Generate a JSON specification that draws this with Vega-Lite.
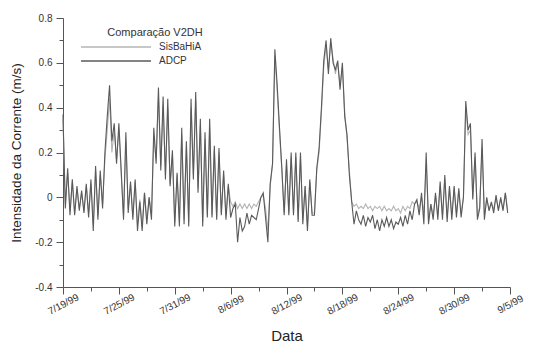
{
"$schema": "https://vega.github.io/schema/vega-lite/v6.json",
"width": 447, "height": 269,
"autosize": {"type": "none"},
"padding": {"left": 63, "top": 18, "right": 31, "bottom": 57},
"background": "white",
"config": {"view": {"stroke": null}, "font": "Liberation Sans"},
"data": {"values": [
{"t":"1999-07-19T00:00","SisBaHiA":0.35,"ADCP":0.37},{"t":"1999-07-19T06:00","SisBaHiA":-0.03,"ADCP":-0.05},{"t":"1999-07-19T12:00","SisBaHiA":0.11,"ADCP":0.13},{"t":"1999-07-19T18:00","SisBaHiA":-0.06,"ADCP":-0.08},
{"t":"1999-07-20T00:00","SisBaHiA":0.07,"ADCP":0.08},{"t":"1999-07-20T06:00","SisBaHiA":-0.07,"ADCP":-0.08},{"t":"1999-07-20T12:00","SisBaHiA":0.04,"ADCP":0.05},{"t":"1999-07-20T18:00","SisBaHiA":-0.05,"ADCP":-0.06},
{"t":"1999-07-21T00:00","SisBaHiA":0.02,"ADCP":0.03},{"t":"1999-07-21T06:00","SisBaHiA":-0.06,"ADCP":-0.07},{"t":"1999-07-21T12:00","SisBaHiA":0.05,"ADCP":0.06},{"t":"1999-07-21T18:00","SisBaHiA":-0.07,"ADCP":-0.09},
{"t":"1999-07-22T00:00","SisBaHiA":0.06,"ADCP":0.08},{"t":"1999-07-22T06:00","SisBaHiA":-0.12,"ADCP":-0.15},{"t":"1999-07-22T12:00","SisBaHiA":0.12,"ADCP":0.14},{"t":"1999-07-22T18:00","SisBaHiA":-0.08,"ADCP":-0.1},
{"t":"1999-07-23T00:00","SisBaHiA":0.1,"ADCP":0.12},{"t":"1999-07-23T06:00","SisBaHiA":-0.03,"ADCP":-0.05},{"t":"1999-07-23T12:00","SisBaHiA":0.17,"ADCP":0.2},{"t":"1999-07-23T18:00","SisBaHiA":0.3,"ADCP":0.36},
{"t":"1999-07-24T00:00","SisBaHiA":0.44,"ADCP":0.5},{"t":"1999-07-24T06:00","SisBaHiA":0.2,"ADCP":0.25},{"t":"1999-07-24T12:00","SisBaHiA":0.3,"ADCP":0.33},{"t":"1999-07-24T18:00","SisBaHiA":0.17,"ADCP":0.15},
{"t":"1999-07-25T00:00","SisBaHiA":0.3,"ADCP":0.33},{"t":"1999-07-25T06:00","SisBaHiA":0.1,"ADCP":0.12},{"t":"1999-07-25T12:00","SisBaHiA":-0.08,"ADCP":-0.1},{"t":"1999-07-25T18:00","SisBaHiA":0.25,"ADCP":0.29},
{"t":"1999-07-26T00:00","SisBaHiA":-0.05,"ADCP":-0.07},{"t":"1999-07-26T06:00","SisBaHiA":0.06,"ADCP":0.07},{"t":"1999-07-26T12:00","SisBaHiA":-0.08,"ADCP":-0.1},{"t":"1999-07-26T18:00","SisBaHiA":0.07,"ADCP":0.08},
{"t":"1999-07-27T00:00","SisBaHiA":-0.12,"ADCP":-0.15},{"t":"1999-07-27T06:00","SisBaHiA":-0.01,"ADCP":-0.02},{"t":"1999-07-27T12:00","SisBaHiA":-0.12,"ADCP":-0.15},{"t":"1999-07-27T18:00","SisBaHiA":0.02,"ADCP":0.02},
{"t":"1999-07-28T00:00","SisBaHiA":-0.1,"ADCP":-0.12},{"t":"1999-07-28T06:00","SisBaHiA":0.0,"ADCP":0.0},{"t":"1999-07-28T12:00","SisBaHiA":-0.08,"ADCP":-0.1},{"t":"1999-07-28T18:00","SisBaHiA":0.27,"ADCP":0.31},
{"t":"1999-07-29T00:00","SisBaHiA":0.17,"ADCP":0.15},{"t":"1999-07-29T06:00","SisBaHiA":0.45,"ADCP":0.49},{"t":"1999-07-29T12:00","SisBaHiA":0.14,"ADCP":0.12},{"t":"1999-07-29T18:00","SisBaHiA":0.41,"ADCP":0.45},
{"t":"1999-07-30T00:00","SisBaHiA":0.1,"ADCP":0.08},{"t":"1999-07-30T06:00","SisBaHiA":0.4,"ADCP":0.44},{"t":"1999-07-30T12:00","SisBaHiA":0.06,"ADCP":0.05},{"t":"1999-07-30T18:00","SisBaHiA":0.19,"ADCP":0.21},
{"t":"1999-07-31T00:00","SisBaHiA":-0.11,"ADCP":-0.13},{"t":"1999-07-31T06:00","SisBaHiA":0.1,"ADCP":0.11},{"t":"1999-07-31T12:00","SisBaHiA":-0.11,"ADCP":-0.13},{"t":"1999-07-31T18:00","SisBaHiA":0.28,"ADCP":0.31},
{"t":"1999-08-01T00:00","SisBaHiA":-0.1,"ADCP":-0.12},{"t":"1999-08-01T06:00","SisBaHiA":0.23,"ADCP":0.25},{"t":"1999-08-01T12:00","SisBaHiA":-0.11,"ADCP":-0.13},{"t":"1999-08-01T18:00","SisBaHiA":0.4,"ADCP":0.44},
{"t":"1999-08-02T00:00","SisBaHiA":0.1,"ADCP":0.08},{"t":"1999-08-02T06:00","SisBaHiA":0.43,"ADCP":0.47},{"t":"1999-08-02T12:00","SisBaHiA":0.04,"ADCP":0.02},{"t":"1999-08-02T18:00","SisBaHiA":0.32,"ADCP":0.35},
{"t":"1999-08-03T00:00","SisBaHiA":-0.11,"ADCP":-0.13},{"t":"1999-08-03T06:00","SisBaHiA":0.26,"ADCP":0.29},{"t":"1999-08-03T12:00","SisBaHiA":-0.08,"ADCP":-0.09},{"t":"1999-08-03T18:00","SisBaHiA":0.31,"ADCP":0.35},
{"t":"1999-08-04T00:00","SisBaHiA":-0.08,"ADCP":-0.09},{"t":"1999-08-04T06:00","SisBaHiA":0.21,"ADCP":0.23},{"t":"1999-08-04T12:00","SisBaHiA":-0.09,"ADCP":-0.1},{"t":"1999-08-04T18:00","SisBaHiA":0.2,"ADCP":0.22},
{"t":"1999-08-05T00:00","SisBaHiA":-0.07,"ADCP":-0.08},{"t":"1999-08-05T06:00","SisBaHiA":0.1,"ADCP":0.12},{"t":"1999-08-05T12:00","SisBaHiA":-0.08,"ADCP":-0.1},{"t":"1999-08-05T18:00","SisBaHiA":0.05,"ADCP":0.06},
{"t":"1999-08-06T00:00","SisBaHiA":-0.02,"ADCP":-0.09},{"t":"1999-08-06T06:00","SisBaHiA":-0.04,"ADCP":-0.05},{"t":"1999-08-06T12:00","SisBaHiA":-0.02,"ADCP":-0.03},{"t":"1999-08-06T18:00","SisBaHiA":-0.05,"ADCP":-0.2},
{"t":"1999-08-07T00:00","SisBaHiA":-0.03,"ADCP":-0.09},{"t":"1999-08-07T06:00","SisBaHiA":-0.05,"ADCP":-0.15},{"t":"1999-08-07T12:00","SisBaHiA":-0.03,"ADCP":-0.13},{"t":"1999-08-07T18:00","SisBaHiA":-0.05,"ADCP":-0.07},
{"t":"1999-08-08T00:00","SisBaHiA":-0.03,"ADCP":-0.12},{"t":"1999-08-08T06:00","SisBaHiA":-0.05,"ADCP":-0.08},{"t":"1999-08-08T12:00","SisBaHiA":-0.03,"ADCP":-0.09},{"t":"1999-08-08T18:00","SisBaHiA":-0.04,"ADCP":-0.1},
{"t":"1999-08-09T00:00","SisBaHiA":-0.02,"ADCP":-0.05},{"t":"1999-08-09T06:00","SisBaHiA":0.0,"ADCP":0.0},{"t":"1999-08-09T12:00","SisBaHiA":0.01,"ADCP":0.02},{"t":"1999-08-09T18:00","SisBaHiA":-0.05,"ADCP":-0.09},
{"t":"1999-08-10T00:00","SisBaHiA":-0.15,"ADCP":-0.2},{"t":"1999-08-10T06:00","SisBaHiA":0.05,"ADCP":0.06},{"t":"1999-08-10T12:00","SisBaHiA":0.15,"ADCP":0.15},{"t":"1999-08-10T18:00","SisBaHiA":0.63,"ADCP":0.66},
{"t":"1999-08-11T00:00","SisBaHiA":0.47,"ADCP":0.5},{"t":"1999-08-11T06:00","SisBaHiA":0.29,"ADCP":0.31},{"t":"1999-08-11T12:00","SisBaHiA":0.12,"ADCP":0.13},{"t":"1999-08-11T18:00","SisBaHiA":-0.07,"ADCP":-0.08},
{"t":"1999-08-12T00:00","SisBaHiA":0.15,"ADCP":0.17},{"t":"1999-08-12T06:00","SisBaHiA":-0.07,"ADCP":-0.08},{"t":"1999-08-12T12:00","SisBaHiA":0.18,"ADCP":0.2},{"t":"1999-08-12T18:00","SisBaHiA":-0.07,"ADCP":-0.08},
{"t":"1999-08-13T00:00","SisBaHiA":0.18,"ADCP":0.2},{"t":"1999-08-13T06:00","SisBaHiA":-0.1,"ADCP":-0.11},{"t":"1999-08-13T12:00","SisBaHiA":0.18,"ADCP":0.2},{"t":"1999-08-13T18:00","SisBaHiA":-0.1,"ADCP":-0.12},
{"t":"1999-08-14T00:00","SisBaHiA":0.05,"ADCP":0.05},{"t":"1999-08-14T06:00","SisBaHiA":-0.13,"ADCP":-0.15},{"t":"1999-08-14T12:00","SisBaHiA":0.07,"ADCP":0.08},{"t":"1999-08-14T18:00","SisBaHiA":-0.07,"ADCP":-0.08},
{"t":"1999-08-15T00:00","SisBaHiA":-0.07,"ADCP":-0.08},{"t":"1999-08-15T06:00","SisBaHiA":0.12,"ADCP":0.13},{"t":"1999-08-15T12:00","SisBaHiA":0.2,"ADCP":0.22},{"t":"1999-08-15T18:00","SisBaHiA":0.38,"ADCP":0.4},
{"t":"1999-08-16T00:00","SisBaHiA":0.58,"ADCP":0.61},{"t":"1999-08-16T06:00","SisBaHiA":0.68,"ADCP":0.7},{"t":"1999-08-16T12:00","SisBaHiA":0.57,"ADCP":0.55},{"t":"1999-08-16T18:00","SisBaHiA":0.69,"ADCP":0.71},
{"t":"1999-08-17T00:00","SisBaHiA":0.62,"ADCP":0.6},{"t":"1999-08-17T06:00","SisBaHiA":0.55,"ADCP":0.57},{"t":"1999-08-17T12:00","SisBaHiA":0.6,"ADCP":0.61},{"t":"1999-08-17T18:00","SisBaHiA":0.5,"ADCP":0.48},
{"t":"1999-08-18T00:00","SisBaHiA":0.58,"ADCP":0.6},{"t":"1999-08-18T06:00","SisBaHiA":0.38,"ADCP":0.36},{"t":"1999-08-18T12:00","SisBaHiA":0.26,"ADCP":0.28},{"t":"1999-08-18T18:00","SisBaHiA":0.12,"ADCP":0.1},
{"t":"1999-08-19T00:00","SisBaHiA":-0.02,"ADCP":-0.02},{"t":"1999-08-19T06:00","SisBaHiA":-0.04,"ADCP":-0.12},{"t":"1999-08-19T12:00","SisBaHiA":-0.03,"ADCP":-0.06},{"t":"1999-08-19T18:00","SisBaHiA":-0.05,"ADCP":-0.1},
{"t":"1999-08-20T00:00","SisBaHiA":-0.04,"ADCP":-0.12},{"t":"1999-08-20T06:00","SisBaHiA":-0.05,"ADCP":-0.08},{"t":"1999-08-20T12:00","SisBaHiA":-0.03,"ADCP":-0.13},{"t":"1999-08-20T18:00","SisBaHiA":-0.05,"ADCP":-0.09},
{"t":"1999-08-21T00:00","SisBaHiA":-0.04,"ADCP":-0.11},{"t":"1999-08-21T06:00","SisBaHiA":-0.06,"ADCP":-0.08},{"t":"1999-08-21T12:00","SisBaHiA":-0.04,"ADCP":-0.14},{"t":"1999-08-21T18:00","SisBaHiA":-0.05,"ADCP":-0.1},
{"t":"1999-08-22T00:00","SisBaHiA":-0.04,"ADCP":-0.15},{"t":"1999-08-22T06:00","SisBaHiA":-0.06,"ADCP":-0.1},{"t":"1999-08-22T12:00","SisBaHiA":-0.04,"ADCP":-0.13},{"t":"1999-08-22T18:00","SisBaHiA":-0.06,"ADCP":-0.09},
{"t":"1999-08-23T00:00","SisBaHiA":-0.05,"ADCP":-0.13},{"t":"1999-08-23T06:00","SisBaHiA":-0.06,"ADCP":-0.1},{"t":"1999-08-23T12:00","SisBaHiA":-0.04,"ADCP":-0.14},{"t":"1999-08-23T18:00","SisBaHiA":-0.06,"ADCP":-0.11},
{"t":"1999-08-24T00:00","SisBaHiA":-0.05,"ADCP":-0.12},{"t":"1999-08-24T06:00","SisBaHiA":-0.07,"ADCP":-0.09},{"t":"1999-08-24T12:00","SisBaHiA":-0.04,"ADCP":-0.13},{"t":"1999-08-24T18:00","SisBaHiA":-0.06,"ADCP":-0.08},
{"t":"1999-08-25T00:00","SisBaHiA":-0.04,"ADCP":-0.12},{"t":"1999-08-25T06:00","SisBaHiA":-0.05,"ADCP":-0.06},{"t":"1999-08-25T12:00","SisBaHiA":-0.02,"ADCP":-0.1},{"t":"1999-08-25T18:00","SisBaHiA":-0.03,"ADCP":-0.03},
{"t":"1999-08-26T00:00","SisBaHiA":-0.02,"ADCP":-0.01},{"t":"1999-08-26T06:00","SisBaHiA":-0.05,"ADCP":-0.08},{"t":"1999-08-26T12:00","SisBaHiA":0.0,"ADCP":0.02},{"t":"1999-08-26T18:00","SisBaHiA":-0.07,"ADCP":-0.12},
{"t":"1999-08-27T00:00","SisBaHiA":0.15,"ADCP":0.2},{"t":"1999-08-27T06:00","SisBaHiA":-0.1,"ADCP":-0.12},{"t":"1999-08-27T12:00","SisBaHiA":-0.03,"ADCP":-0.03},{"t":"1999-08-27T18:00","SisBaHiA":-0.08,"ADCP":-0.1},
{"t":"1999-08-28T00:00","SisBaHiA":0.01,"ADCP":0.02},{"t":"1999-08-28T06:00","SisBaHiA":-0.08,"ADCP":-0.1},{"t":"1999-08-28T12:00","SisBaHiA":0.05,"ADCP":0.07},{"t":"1999-08-28T18:00","SisBaHiA":-0.08,"ADCP":-0.1},
{"t":"1999-08-29T00:00","SisBaHiA":0.08,"ADCP":0.1},{"t":"1999-08-29T06:00","SisBaHiA":-0.09,"ADCP":-0.11},{"t":"1999-08-29T12:00","SisBaHiA":0.04,"ADCP":0.05},{"t":"1999-08-29T18:00","SisBaHiA":-0.08,"ADCP":-0.1},
{"t":"1999-08-30T00:00","SisBaHiA":0.04,"ADCP":0.05},{"t":"1999-08-30T06:00","SisBaHiA":-0.07,"ADCP":-0.09},{"t":"1999-08-30T12:00","SisBaHiA":0.03,"ADCP":0.04},{"t":"1999-08-30T18:00","SisBaHiA":-0.07,"ADCP":-0.09},
{"t":"1999-08-31T00:00","SisBaHiA":0.0,"ADCP":0.0},{"t":"1999-08-31T06:00","SisBaHiA":0.4,"ADCP":0.43},{"t":"1999-08-31T12:00","SisBaHiA":0.28,"ADCP":0.3},{"t":"1999-08-31T18:00","SisBaHiA":0.3,"ADCP":0.33},
{"t":"1999-09-01T00:00","SisBaHiA":0.0,"ADCP":-0.01},{"t":"1999-09-01T06:00","SisBaHiA":0.18,"ADCP":0.2},{"t":"1999-09-01T12:00","SisBaHiA":-0.08,"ADCP":-0.1},{"t":"1999-09-01T18:00","SisBaHiA":-0.04,"ADCP":-0.05},
{"t":"1999-09-02T00:00","SisBaHiA":0.22,"ADCP":0.26},{"t":"1999-09-02T06:00","SisBaHiA":-0.08,"ADCP":-0.1},{"t":"1999-09-02T12:00","SisBaHiA":-0.01,"ADCP":0.0},{"t":"1999-09-02T18:00","SisBaHiA":-0.05,"ADCP":-0.06},
{"t":"1999-09-03T00:00","SisBaHiA":-0.03,"ADCP":-0.02},{"t":"1999-09-03T06:00","SisBaHiA":-0.05,"ADCP":-0.07},{"t":"1999-09-03T12:00","SisBaHiA":0.0,"ADCP":0.01},{"t":"1999-09-03T18:00","SisBaHiA":-0.05,"ADCP":-0.06},
{"t":"1999-09-04T00:00","SisBaHiA":-0.01,"ADCP":0.0},{"t":"1999-09-04T06:00","SisBaHiA":-0.05,"ADCP":-0.06},{"t":"1999-09-04T12:00","SisBaHiA":0.02,"ADCP":0.02},{"t":"1999-09-04T18:00","SisBaHiA":-0.06,"ADCP":-0.07}
]},
"transform": [{"fold": ["SisBaHiA", "ADCP"], "as": ["serie", "valor"]}],
"mark": {"type": "line", "strokeWidth": 1.1},
"encoding": {
  "x": {"field": "t", "type": "temporal",
    "scale": {"domain": [{"year": 1999, "month": 7, "date": 19}, {"year": 1999, "month": 9, "date": 5}]},
    "axis": {"title": "Data", "titleFontSize": 15, "titleFontWeight": "normal", "titleColor": "#222", "titlePadding": 12,
      "values": [{"year":1999,"month":7,"date":19},{"year":1999,"month":7,"date":22},{"year":1999,"month":7,"date":25},{"year":1999,"month":7,"date":28},{"year":1999,"month":7,"date":31},{"year":1999,"month":8,"date":3},{"year":1999,"month":8,"date":6},{"year":1999,"month":8,"date":9},{"year":1999,"month":8,"date":12},{"year":1999,"month":8,"date":15},{"year":1999,"month":8,"date":18},{"year":1999,"month":8,"date":21},{"year":1999,"month":8,"date":24},{"year":1999,"month":8,"date":27},{"year":1999,"month":8,"date":30},{"year":1999,"month":9,"date":2},{"year":1999,"month":9,"date":5}],
      "labelExpr": "round((time(datum.value) - time(datetime(1999,6,19)))/86400000) % 6 == 0 ? timeFormat(datum.value, '%-m/%-d/%y') : ''",
      "labelAngle": -28, "labelAlign": "center", "labelBaseline": "middle", "labelPadding": 10,
      "labelFontSize": 10, "labelColor": "#333", "labelOverlap": false, "labelFlush": false,
      "grid": false, "domainColor": "#555", "tickColor": "#555",
      "tickSize": {"condition": {"test": "round((time(datum.value) - time(datetime(1999,6,19)))/86400000) % 6 == 0", "value": 7}, "value": 4}}},
  "y": {"field": "valor", "type": "quantitative",
    "scale": {"domain": [-0.4, 0.8], "nice": false, "zero": false},
    "axis": {"title": "Intensidade da Corrente (m/s)", "titleFontSize": 13.5, "titleFontWeight": "normal", "titleColor": "#222", "titlePadding": 11,
      "values": [-0.4,-0.3,-0.2,-0.1,0,0.1,0.2,0.3,0.4,0.5,0.6,0.7,0.8],
      "labelExpr": "round(datum.value*10) % 2 == 0 ? '' + datum.value : ''",
      "labelFontSize": 10, "labelColor": "#333", "labelPadding": 4,
      "grid": false, "domainColor": "#555", "tickColor": "#555",
      "tickSize": {"condition": {"test": "round(datum.value*10) % 2 == 0", "value": 7}, "value": 4}}},
  "color": {"field": "serie", "type": "nominal",
    "scale": {"domain": ["SisBaHiA", "ADCP"], "range": ["#b4b4b4", "#5a5a5a"]},
    "legend": {"title": "Comparação V2DH", "orient": "none", "legendX": 44, "legendY": 9,
      "titleAnchor": "middle", "titleFontSize": 11, "titleFontWeight": "normal", "titleColor": "#333", "titlePadding": 1,
      "labelFontSize": 10, "labelColor": "#333", "labelOffset": 35,
      "symbolType": "M-5,0H5", "symbolSize": 196, "symbolStrokeWidth": 1.3, "rowPadding": 1}}
}
}
